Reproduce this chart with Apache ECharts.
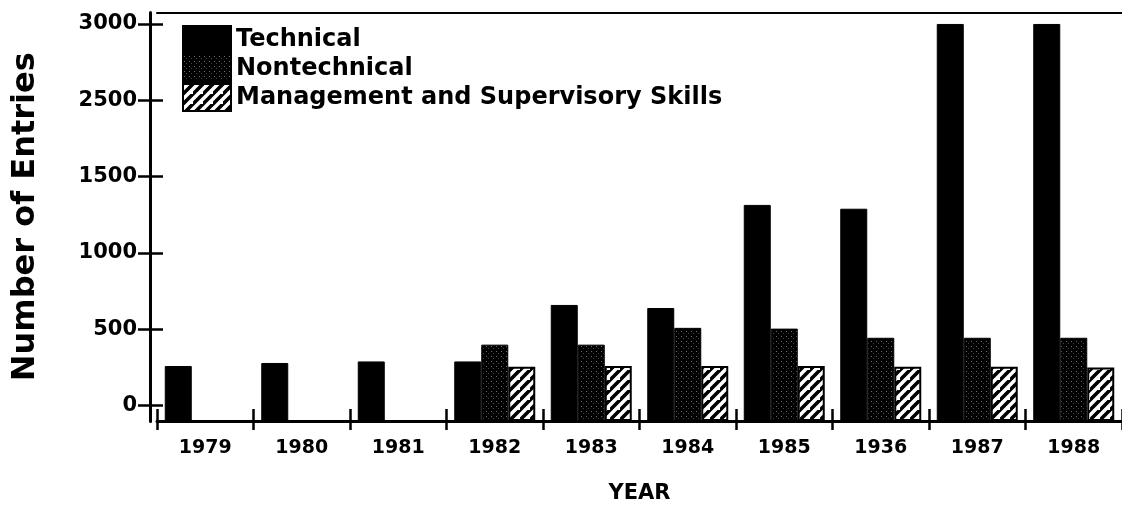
<!DOCTYPE html>
<html>
<head>
<meta charset="utf-8">
<script src="https://cdn.jsdelivr.net/npm/echarts@6/dist/echarts.min.js"></script>
<style>
  html, body { margin: 0; padding: 0; background: #fff; }
  #chart { width: 1122px; height: 514px; }
</style>
</head>
<body>
<div id="chart"></div>
<script>
// Training catalogue entries per year, by course type
const years = ['1979', '1980', '1981', '1982', '1983', '1984', '1985', '1936', '1987', '1988'];
const technical = [260, 280, 290, 290, 660, 640, 1315, 1290, 3000, 3000];
const nontechnical = [null, null, null, 400, 400, 510, 505, 445, 445, 445];
const management = [null, null, null, 255, 260, 260, 260, 255, 255, 250];
const yTickValues = [0, 500, 1000, 1500, 2500, 3000];
const seriesNames = ['Technical', 'Nontechnical', 'Management and Supervisory Skills'];

const FONT = 'DejaVu Sans';

// stippled fill: black with sparse grey specks
function stipple() {
  const c = document.createElement('canvas');
  c.width = 5; c.height = 5;
  const g = c.getContext('2d');
  g.fillStyle = '#000';
  g.fillRect(0, 0, 5, 5);
  g.fillStyle = '#6e6e6e';
  g.fillRect(1, 1, 1, 1);
  g.fillStyle = '#444';
  g.fillRect(3, 3, 1, 1);
  return c;
}

// diagonal hatching: black "////" on white
function hatch() {
  const s = 10;
  const c = document.createElement('canvas');
  c.width = s; c.height = s;
  const g = c.getContext('2d');
  g.fillStyle = '#fff';
  g.fillRect(0, 0, s, s);
  g.strokeStyle = '#000';
  g.lineWidth = 3.6;
  g.beginPath();
  g.moveTo(-2, s + 2); g.lineTo(s + 2, -2);
  g.moveTo(-2 - s, s + 2); g.lineTo(2, -2);
  g.moveTo(s - 2, 2 * s + 2); g.lineTo(2 * s + 2, s - 2);
  g.stroke();
  return c;
}

const valueAxisBase = {
  type: 'value',
  position: 'left',
  offset: 7,
  min: -100,
  max: 3075,
  startValue: -100,
  breaks: [{ start: 1750, end: 2250, gap: 0 }],
  breakArea: { show: false },
  splitLine: { show: false }
};

const chart = echarts.init(document.getElementById('chart'), null, { renderer: 'canvas' });

chart.setOption({
  animation: false,
  backgroundColor: '#fff',
  textStyle: { fontFamily: FONT, color: '#000' },
  grid: { left: 157, top: 12.5, width: 974, height: 408.5, containLabel: false },
  legend: {
    orient: 'vertical',
    left: 182,
    top: 25,
    itemWidth: 48,
    itemHeight: 27,
    itemGap: 0,
    padding: 0,
    selectedMode: false,
    textStyle: { fontFamily: FONT, fontWeight: 'bold', fontSize: 24, color: '#000' },
    data: seriesNames.map(n => ({ name: n, icon: 'rect' }))
  },
  xAxis: [
    {
      type: 'category',
      data: years,
      position: 'bottom',
      boundaryGap: true,
      axisLine: { show: true, onZero: false, lineStyle: { color: '#000', width: 3 } },
      axisTick: { show: true, interval: 0, length: 9, lineStyle: { color: '#000', width: 2.5 } },
      axisLabel: { interval: 0, margin: 18, fontFamily: FONT, fontWeight: 'bold', fontSize: 19, color: '#000' },
      name: 'YEAR',
      nameLocation: 'middle',
      nameGap: 62,
      nameTextStyle: { fontFamily: FONT, fontWeight: 'bold', fontSize: 21, color: '#000' }
    },
    {
      type: 'category',
      data: years,
      position: 'bottom',
      boundaryGap: true,
      axisLine: { show: false, onZero: false },
      axisTick: { show: true, inside: true, interval: 0, length: 12, lineStyle: { color: '#000', width: 2.5 } },
      axisLabel: { show: false }
    },
    {
      type: 'category',
      data: years,
      position: 'top',
      axisLine: { show: true, onZero: false, lineStyle: { color: '#000', width: 2 } },
      axisTick: { show: false },
      axisLabel: { show: false }
    }
  ],
  yAxis: [
    Object.assign({}, valueAxisBase, {
      axisLine: { show: true, lineStyle: { color: '#000', width: 3 } },
      axisTick: { show: true, customValues: yTickValues, length: 12, lineStyle: { color: '#000', width: 2.5 } },
      axisLabel: {
        customValues: yTickValues,
        formatter: v => String(v),
        margin: 13, fontFamily: FONT, fontWeight: 'bold', fontSize: 21, color: '#000'
      },
      name: 'Number of Entries',
      nameLocation: 'middle',
      nameRotate: 90,
      nameGap: 108,
      nameTextStyle: { fontFamily: FONT, fontWeight: 'bold', fontSize: 32, color: '#000' }
    }),
    Object.assign({}, valueAxisBase, {
      axisLine: { show: false },
      axisTick: { show: true, inside: true, customValues: yTickValues, length: 13, lineStyle: { color: '#000', width: 2.5 } },
      axisLabel: { show: false }
    })
  ],
  series: [
    {
      name: seriesNames[0],
      type: 'bar',
      xAxisIndex: 0,
      yAxisIndex: 0,
      data: technical,
      barWidth: 27,
      barGap: '0%',
      itemStyle: { color: '#000', borderColor: '#000', borderWidth: 1 }
    },
    {
      name: seriesNames[1],
      type: 'bar',
      xAxisIndex: 0,
      yAxisIndex: 0,
      data: nontechnical,
      barWidth: 27,
      barGap: '0%',
      itemStyle: { color: { image: stipple(), repeat: 'repeat' }, borderColor: '#000', borderWidth: 1 }
    },
    {
      name: seriesNames[2],
      type: 'bar',
      xAxisIndex: 0,
      yAxisIndex: 0,
      data: management,
      barWidth: 27,
      barGap: '0%',
      itemStyle: { color: { image: hatch(), repeat: 'repeat' }, borderColor: '#000', borderWidth: 2 }
    }
  ]
});
</script>
</body>
</html>
